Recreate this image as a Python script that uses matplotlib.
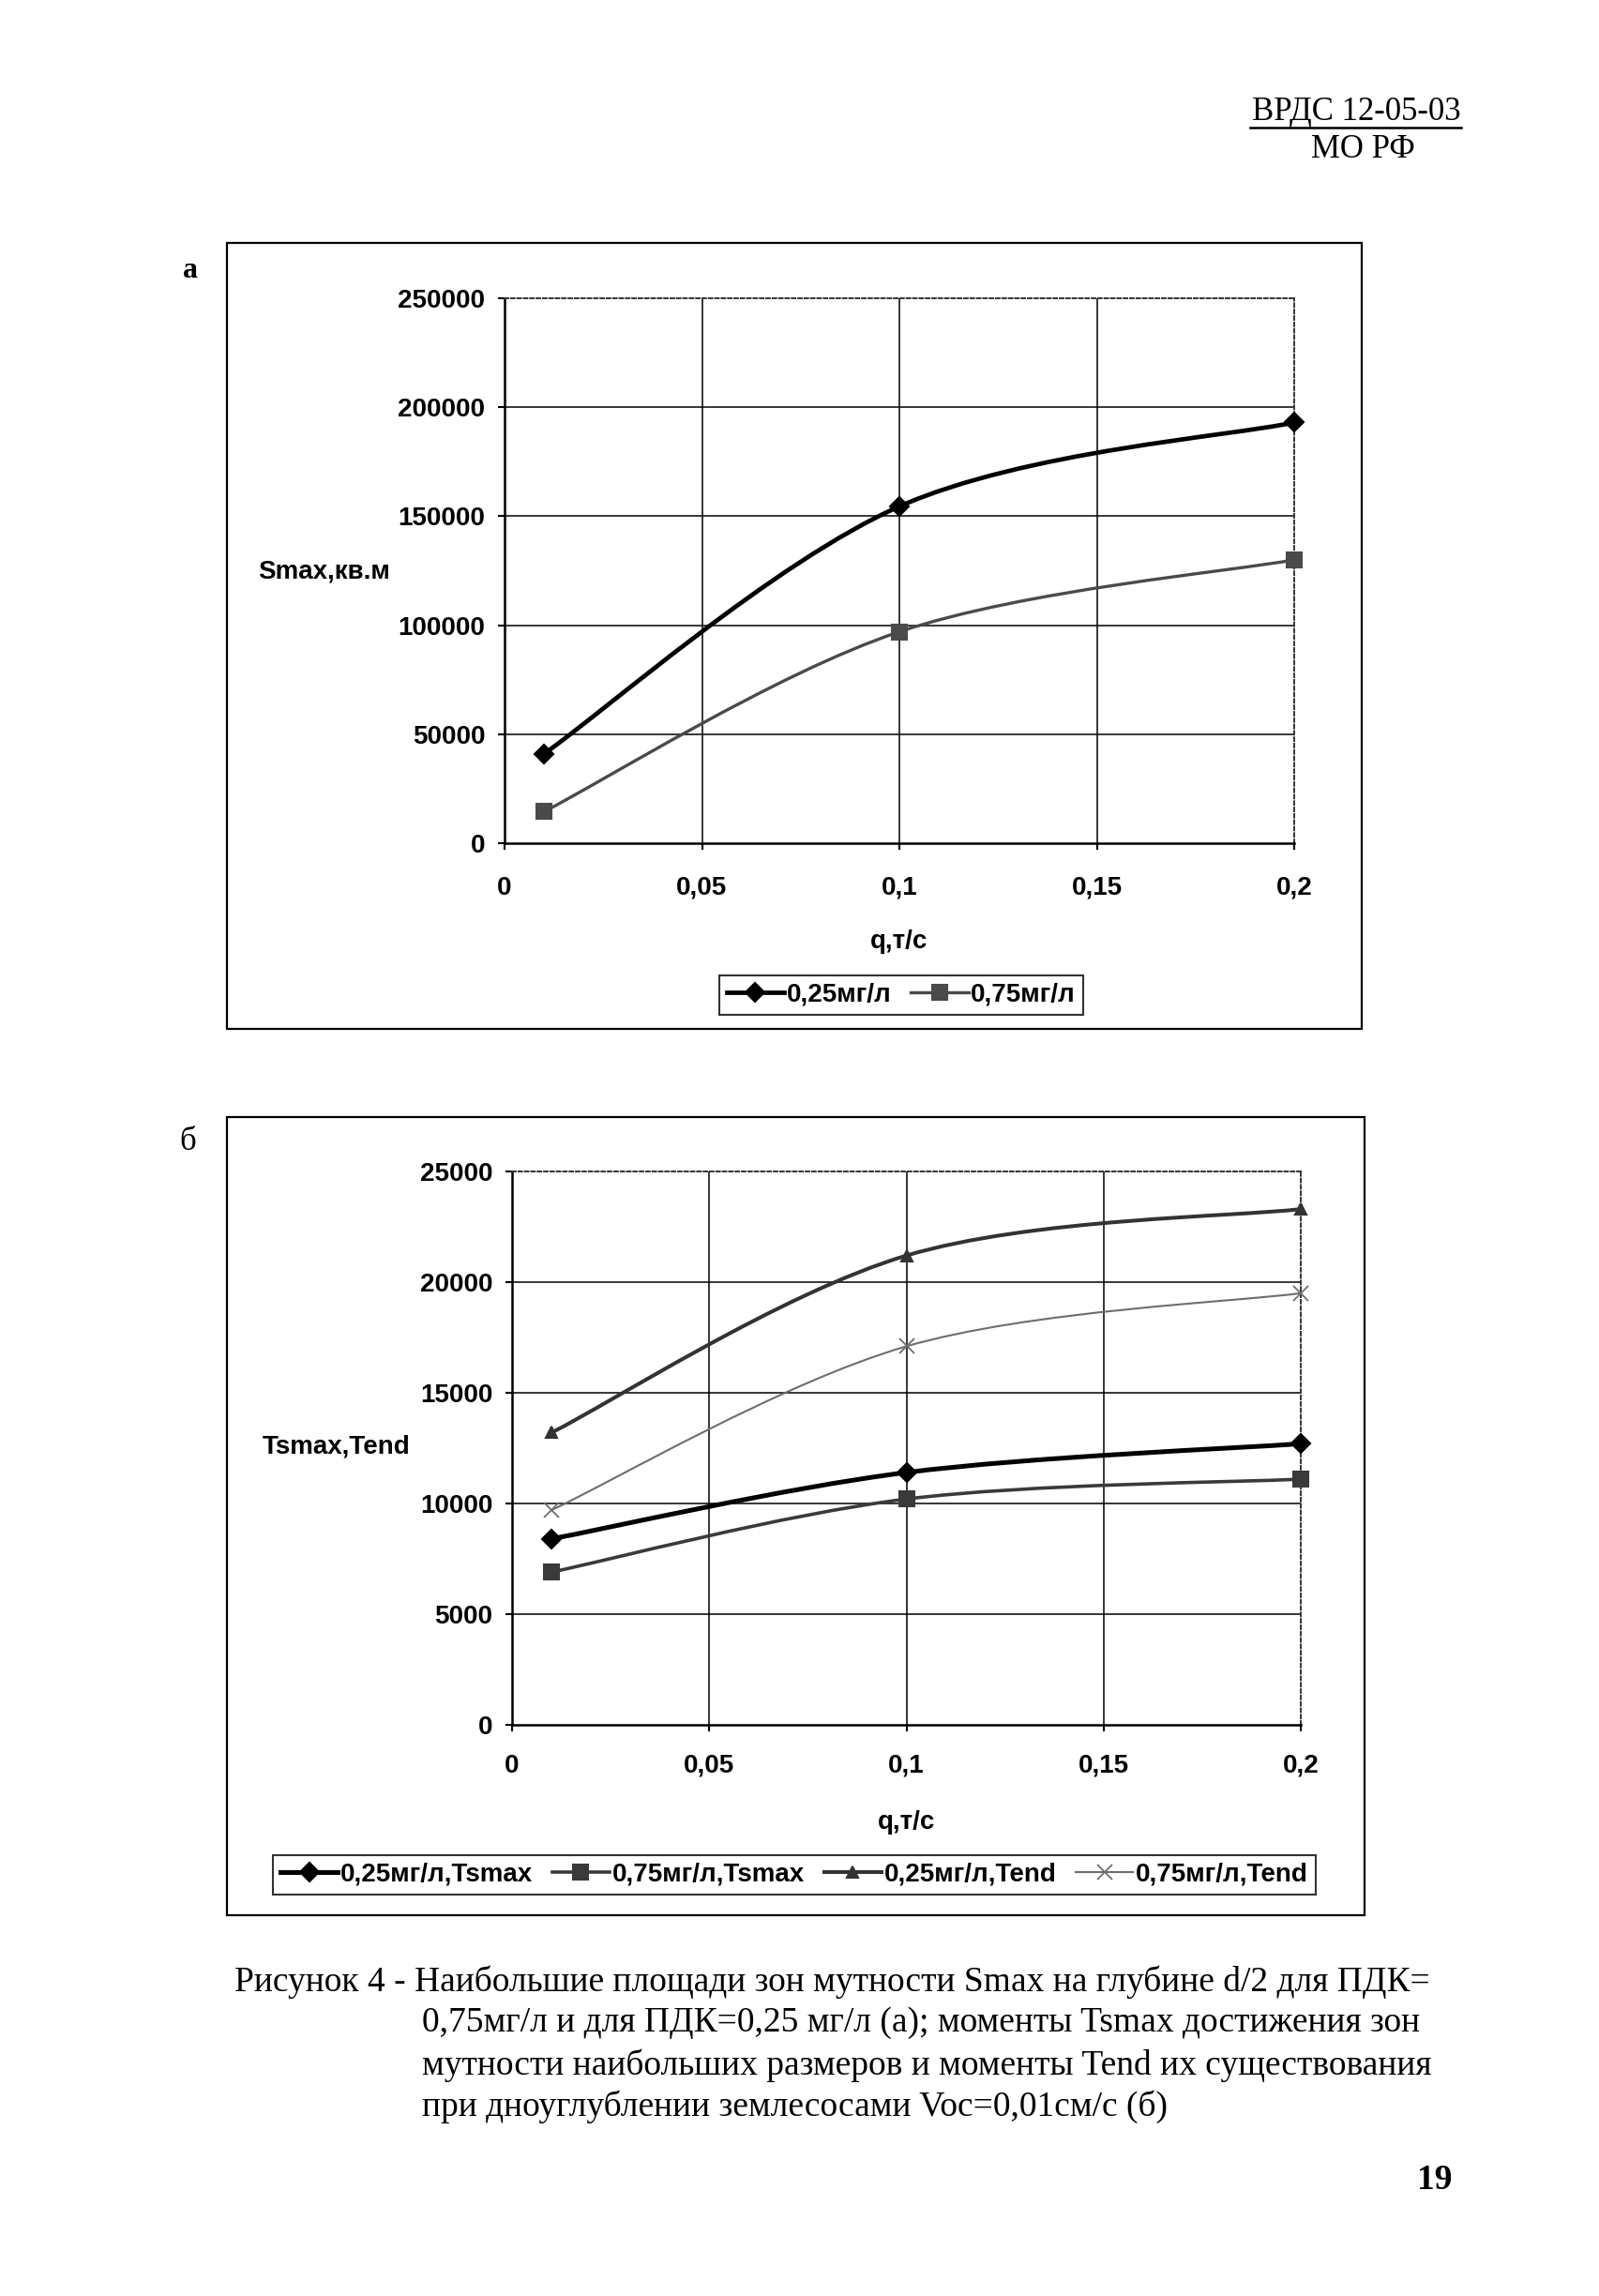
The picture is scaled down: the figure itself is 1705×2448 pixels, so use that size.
import matplotlib
matplotlib.use('Agg')
import matplotlib.pyplot as plt
import numpy as np
from matplotlib.path import Path
from matplotlib.patches import PathPatch, Rectangle
from matplotlib.lines import Line2D

# ---- data ----
q = [0.01, 0.1, 0.2]                      # q, т/с
smax_025 = [41000, 154500, 193000]        # Smax, кв.м, ПДК 0,25 мг/л
smax_075 = [14500, 97000, 130000]         # Smax, кв.м, ПДК 0,75 мг/л
tsmax_025 = [8400, 11400, 12700]
tsmax_075 = [6900, 10200, 11100]
tend_025 = [13200, 21200, 23300]
tend_075 = [9700, 17100, 19500]

x_ticks = [0, 0.05, 0.1, 0.15, 0.2]
x_tick_labels = ['0', '0,05', '0,1', '0,15', '0,2']
a_y_ticks = [0, 50000, 100000, 150000, 200000, 250000]
b_y_ticks = [0, 5000, 10000, 15000, 20000, 25000]

legend_a = ['0,25мг/л', '0,75мг/л']
legend_b = ['0,25мг/л,Tsmax', '0,75мг/л,Tsmax', '0,25мг/л,Tend', '0,75мг/л,Tend']

caption = ['Рисунок 4 - Наибольшие площади зон мутности Smax на глубине d/2 для ПДК=',
           '0,75мг/л и для ПДК=0,25 мг/л (а); моменты Tsmax достижения зон',
           'мутности наибольших размеров и моменты Tend их существования',
           'при дноуглублении землесосами Voc=0,01см/с (б)']

plt.rcParams['font.family'] = ['Liberation Sans', 'DejaVu Sans']
SERIF = ['Liberation Serif', 'DejaVu Serif']
FS = 20

W, H = 1705, 2448
fig = plt.figure(figsize=(W / 100, H / 100), dpi=100)


def fx(px):
    return px / W


def fy(py):
    return 1 - py / H


def smooth_path(xs, ys):
    # Excel-style smoothed line: cubic Bezier through the points
    pts = np.column_stack([xs, ys]).astype(float)
    n = len(pts)
    verts = [pts[0]]
    codes = [Path.MOVETO]
    for i in range(n - 1):
        p0 = pts[max(i - 1, 0)]
        p3 = pts[min(i + 2, n - 1)]
        c1 = pts[i] + (pts[i + 1] - p0) / 6
        c2 = pts[i + 1] - (p3 - pts[i]) / 6
        verts += [c1, c2, pts[i + 1]]
        codes += [Path.CURVE4] * 3
    return Path(verts, codes)


def series(ax, xs, ys, color, lw, marker, ms, mew=1.5):
    ax.add_patch(PathPatch(smooth_path(xs, ys), fc='none', ec=color, lw=lw,
                           capstyle='round', joinstyle='round', zorder=3))
    ax.plot(xs, ys, ls='none', marker=marker, ms=ms, color=color,
            mfc=color, mec=color, mew=mew, zorder=4, clip_on=False)
    return Line2D([], [], color=color, lw=lw, marker=marker, ms=ms,
                  mfc=color, mec=color, mew=mew)


def setup(ax, yticks, xpad):
    ax.hlines(yticks[1:-1], x_ticks[0], x_ticks[-1], colors='black', lw=1.1, zorder=1)
    ax.vlines(x_ticks[1:-1], yticks[0], yticks[-1], colors='black', lw=1.1, zorder=1)
    ax.set_xlim(x_ticks[0], x_ticks[-1])
    ax.set_ylim(yticks[0], yticks[-1])
    ax.set_xticks(x_ticks)
    ax.set_xticklabels(x_tick_labels)
    ax.set_yticks(yticks)
    ax.set_yticklabels([str(v) for v in yticks])
    for s in ['left', 'bottom']:
        ax.spines[s].set_linewidth(1.8)
        ax.spines[s].set_color('black')
    for s in ['top', 'right']:
        ax.spines[s].set_linewidth(1.4)
        ax.spines[s].set_color('#333333')
        ax.spines[s].set_linestyle((0, (2, 1.5)))
    ax.tick_params(direction='out', length=5, width=1.5, labelsize=FS, colors='black')
    ax.tick_params(axis='x', pad=xpad)
    ax.tick_params(axis='y', pad=10)
    for t in ax.get_xticklabels() + ax.get_yticklabels():
        t.set_fontweight('bold')


def frame(x0, y0, x1, y1):
    fig.add_artist(Rectangle((fx(x0), fy(y1)), (x1 - x0) / W, (y1 - y0) / H,
                             transform=fig.transFigure, fill=False, ec='black', lw=1.6))


leg_kw = dict(loc='center', frameon=True, fancybox=False, edgecolor='black',
              prop={'size': FS, 'weight': 'bold'}, handlelength=2.2, handletextpad=0.1,
              columnspacing=0.75, borderpad=0.3, borderaxespad=0)

# ---- chart а ----
frame(242, 259, 1452, 1097)
ax1 = fig.add_axes([fx(538), fy(899), (1380 - 538) / W, (899 - 318) / H])
h1 = series(ax1, q, smax_025, 'black', 3.4, 'D', 10.5)
h2 = series(ax1, q, smax_075, '#4a4a4a', 2.4, 's', 11)
setup(ax1, a_y_ticks, 20)
ax1.set_ylabel('Smax,кв.м', rotation=0, fontsize=FS, fontweight='bold',
               ha='center', va='center')
ax1.yaxis.set_label_coords((346 - 538) / (1380 - 538), 0.499)
ax1.set_xlabel('q,т/с', fontsize=FS, fontweight='bold')
ax1.xaxis.set_label_coords(0.5, -0.158)
lg1 = fig.legend([h1, h2], legend_a, ncol=2,
                 bbox_to_anchor=(fx(961), fy(1061)), **leg_kw)
lg1.get_frame().set_linewidth(1.5)

# ---- chart б ----
frame(242, 1191, 1455, 2042)
ax2 = fig.add_axes([fx(546), fy(1839), (1387 - 546) / W, (1839 - 1249) / H])
g1 = series(ax2, q, tsmax_025, 'black', 3.6, 'D', 10.5)
g2 = series(ax2, q, tsmax_075, '#3a3a3a', 2.6, 's', 11)
g3 = series(ax2, q, tend_025, '#333333', 2.9, '^', 8.5)
g4 = series(ax2, q, tend_075, '#6e6e6e', 1.5, 'x', 12, mew=1.3)
setup(ax2, b_y_ticks, 17)
ax2.set_ylabel('Tsmax,Tend', rotation=0, fontsize=FS, fontweight='bold',
               ha='center', va='center')
ax2.yaxis.set_label_coords((359 - 546) / (1387 - 546), 0.502)
ax2.set_xlabel('q,т/с', fontsize=FS, fontweight='bold')
ax2.xaxis.set_label_coords(0.5, -0.154)
lg2 = fig.legend([g1, g2, g3, g4], legend_b, ncol=4,
                 bbox_to_anchor=(fx(847), fy(1999)), **leg_kw)
lg2.get_frame().set_linewidth(1.5)

# ---- page text ----
fig.text(fx(203), fy(288), 'а', family=SERIF, fontsize=23, fontweight='bold',
         ha='center', va='center')
fig.text(fx(200), fy(1218), 'б', family=SERIF, fontsize=25, ha='center', va='center')

fig.text(fx(1446), fy(119), 'ВРДС 12-05-03', family=SERIF, fontsize=25,
         ha='center', va='center')
fig.add_artist(Line2D([fx(1333), fx(1558)], [fy(136), fy(136)], color='black', lw=1.8,
                      transform=fig.transFigure))
fig.text(fx(1453), fy(160), 'МО РФ', family=SERIF, fontsize=25, ha='center', va='center')

cap_y = [2113, 2157, 2202, 2246]
cap_x = [250, 450, 450, 450]
for line, xx, yy in zip(caption, cap_x, cap_y):
    fig.text(fx(xx), fy(yy), line, family=SERIF, fontsize=27, ha='left', va='center')

fig.text(fx(1530), fy(2325), '19', family=SERIF, fontsize=27, fontweight='bold',
         ha='center', va='center')

fig.savefig('out.png', dpi=100, facecolor='white')
